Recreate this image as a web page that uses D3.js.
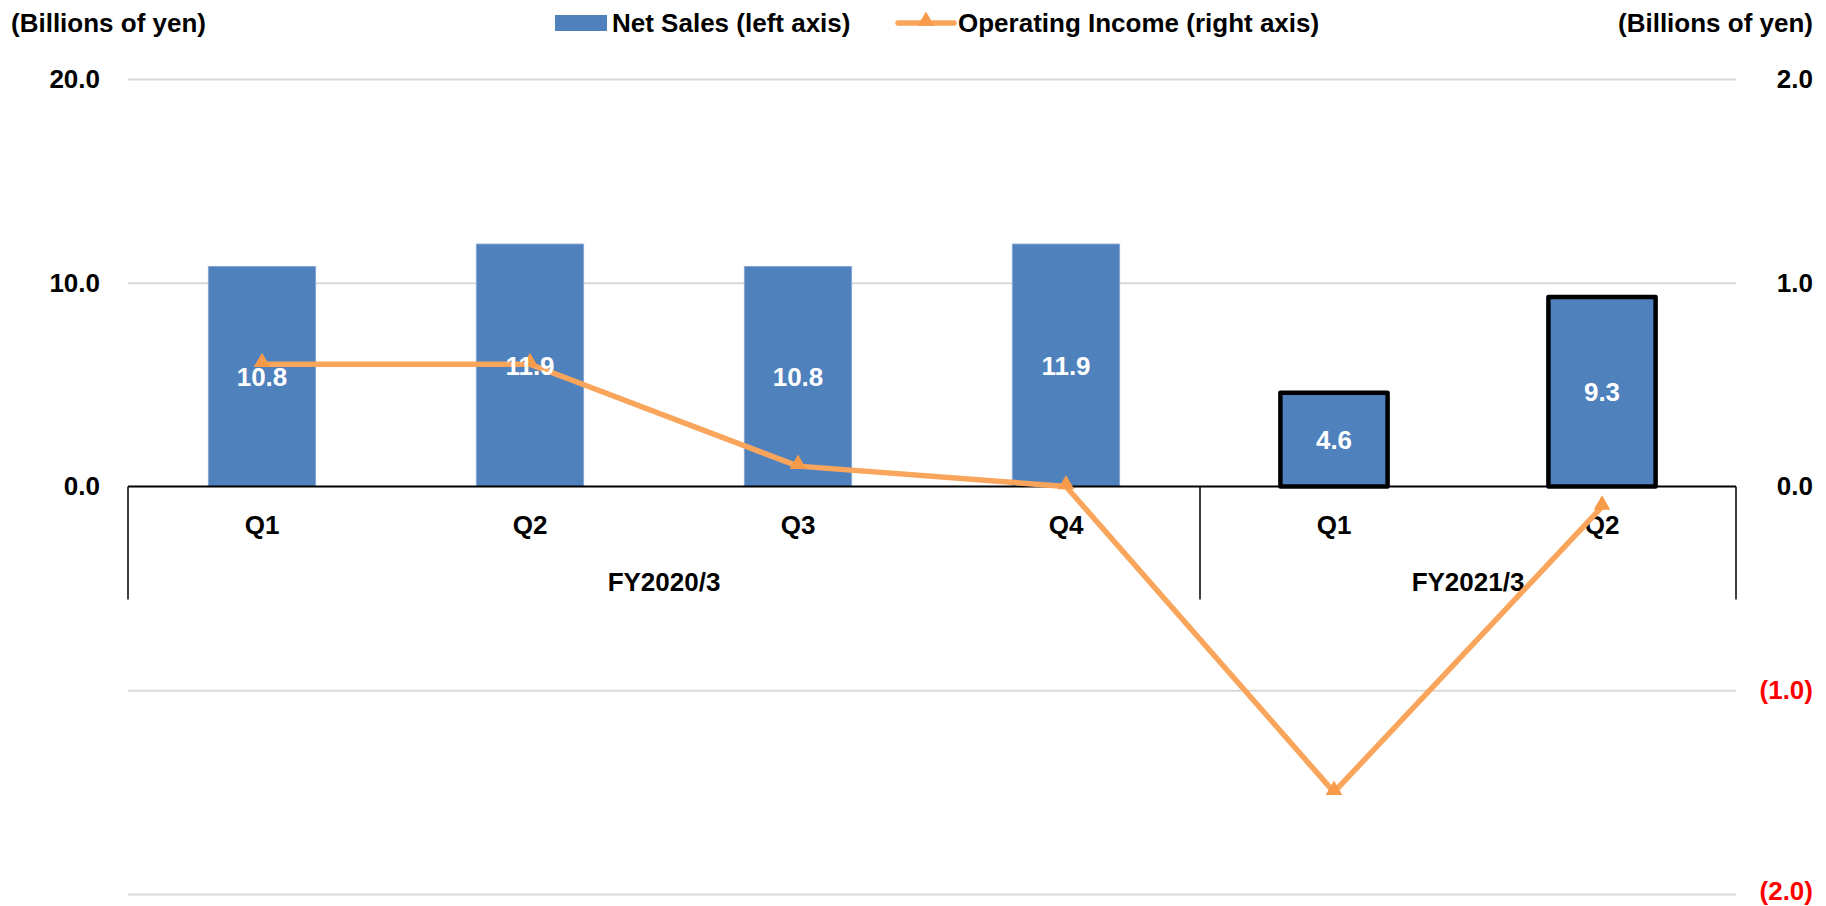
<!DOCTYPE html>
<html>
<head>
<meta charset="utf-8">
<script src="https://cdn.jsdelivr.net/npm/d3@7"></script>
<style>
  html, body { margin: 0; padding: 0; background: #fff; }
  svg text { font-family: "Liberation Sans Narrow", "Arial Narrow", "Liberation Sans", sans-serif; font-weight: bold; }
</style>
</head>
<body>
<svg id="chart"></svg>
<script>
// data
const quarters = ['Q1', 'Q2', 'Q3', 'Q4', 'Q1', 'Q2'];
const fiscalYears = ['FY2020/3', 'FY2021/3'];
const netSales = [10.8, 11.9, 10.8, 11.9, 4.6, 9.3];
const operatingIncome = [0.6, 0.6, 0.1, 0.0, -1.5, -0.1];
const outlined = [false, false, false, false, true, true];
const leftTicks = [0, 10, 20];
const rightTicks = [-2, -1, 0, 1, 2];
const gridTicks = [-20, -10, 10, 20];

const width = 1826, height = 906;
const margin = { left: 128, right: 90, top: 79, bottom: 12 };

const svg = d3.select('#chart').attr('width', width).attr('height', height);

const idx = d3.range(quarters.length);
const x = d3.scaleBand()
	.domain(idx)
	.range([margin.left, width - margin.right])
	.paddingInner(0.6)
	.paddingOuter(0.3);

const yLeft = d3.scaleLinear().domain([-20, 20]).range([height - margin.bottom, margin.top]);
const yRight = d3.scaleLinear().domain([-2, 2]).range([height - margin.bottom, margin.top]);

const fmt = d3.format('.1f');
const blue = '#4f81bd';
const orange = '#f9a55b';

// gridlines
svg.append('g')
	.attr('transform', `translate(${margin.left},0)`)
	.call(d3.axisLeft(yLeft).tickValues(gridTicks).tickSize(-(width - margin.left - margin.right)).tickFormat(''))
	.call(g => g.select('.domain').remove())
	.call(g => g.selectAll('line').attr('stroke', '#d9d9d9').attr('stroke-width', 2));

// bars
svg.append('g')
	.selectAll('rect')
	.data(idx)
	.join('rect')
	.attr('x', i => x(i))
	.attr('width', x.bandwidth())
	.attr('y', i => yLeft(netSales[i]))
	.attr('height', i => yLeft(0) - yLeft(netSales[i]))
	.attr('fill', blue)
	.attr('stroke', i => outlined[i] ? '#000' : '#86a6d3')
	.attr('stroke-width', i => outlined[i] ? 4.5 : 1)
	.attr('stroke-linejoin', 'round');

// category axis
const x0 = x.range()[0], x1 = x.range()[1];
const gap = (x.step() - x.bandwidth()) / 2;
const sep = [x0, x(4) - gap, x1];
const axisG = svg.append('g');
axisG.append('line')
	.attr('x1', x0).attr('x2', x1)
	.attr('y1', yLeft(0)).attr('y2', yLeft(0))
	.attr('stroke', '#000').attr('stroke-width', 2);
axisG.selectAll('.sep')
	.data(sep)
	.join('line')
	.attr('class', 'sep')
	.attr('x1', d => d).attr('x2', d => d)
	.attr('y1', yLeft(0)).attr('y2', yLeft(0) + 113)
	.attr('stroke', '#000').attr('stroke-width', 1.5);
axisG.selectAll('.q')
	.data(idx)
	.join('text')
	.attr('class', 'q')
	.attr('x', i => x(i) + x.bandwidth() / 2)
	.attr('y', yLeft(0) + 38)
	.attr('dy', '0.36em')
	.attr('text-anchor', 'middle')
	.style('font-size', '26px')
	.text(i => quarters[i]);
axisG.selectAll('.fy')
	.data(fiscalYears)
	.join('text')
	.attr('class', 'fy')
	.attr('x', (d, j) => (sep[j] + sep[j + 1]) / 2)
	.attr('y', yLeft(0) + 95)
	.attr('dy', '0.36em')
	.attr('text-anchor', 'middle')
	.style('font-size', '26px')
	.text(d => d);

// operating income line
const line = d3.line()
	.x(i => x(i) + x.bandwidth() / 2)
	.y(i => yRight(operatingIncome[i]));
svg.append('path')
	.datum(idx)
	.attr('fill', 'none')
	.attr('stroke', orange)
	.attr('stroke-width', 5.5)
	.attr('stroke-linejoin', 'round')
	.attr('d', line);
svg.append('g')
	.selectAll('path')
	.data(idx)
	.join('path')
	.attr('transform', i => `translate(${x(i) + x.bandwidth() / 2},${yRight(operatingIncome[i]) - 2})`)
	.attr('d', d3.symbol(d3.symbolTriangle, 120))
	.attr('fill', '#f79a4a');

// bar labels (drawn over the line)
svg.append('g')
	.selectAll('text')
	.data(idx)
	.join('text')
	.attr('x', i => x(i) + x.bandwidth() / 2)
	.attr('y', i => (yLeft(netSales[i]) + yLeft(0)) / 2)
	.attr('dy', '0.36em')
	.attr('text-anchor', 'middle')
	.attr('fill', '#fff')
	.style('font-size', '26px')
	.text(i => fmt(netSales[i]));

// left axis
svg.append('g')
	.attr('transform', `translate(${margin.left},0)`)
	.call(d3.axisLeft(yLeft).tickValues(leftTicks).tickSize(0).tickPadding(28).tickFormat(fmt))
	.call(g => g.select('.domain').remove())
	.call(g => g.selectAll('text').attr('fill', '#000').style('font-size', '26px'));

// right axis
svg.append('g')
	.attr('transform', `translate(${width - margin.right},0)`)
	.call(d3.axisRight(yRight).tickValues(rightTicks).tickSize(0).tickPadding(0)
		.tickFormat(d => d < 0 ? `(${fmt(-d)})` : fmt(d)))
	.call(g => g.select('.domain').remove())
	.call(g => g.selectAll('text')
		.attr('x', 77)
		.attr('text-anchor', 'end')
		.attr('dy', d => d === -2 ? '0.2em' : '0.32em')
		.attr('fill', d => d < 0 ? '#ff0000' : '#000')
		.style('font-size', '26px'));

// axis titles
svg.append('text')
	.attr('x', 11).attr('y', 23).attr('dy', '0.36em')
	.style('font-size', '26px')
	.text('(Billions of yen)');
svg.append('text')
	.attr('x', 1813).attr('y', 23).attr('dy', '0.36em')
	.attr('text-anchor', 'end')
	.style('font-size', '26px')
	.text('(Billions of yen)');

// legend
const legend = svg.append('g');
legend.append('rect')
	.attr('x', 555).attr('y', 15).attr('width', 52).attr('height', 16)
	.attr('fill', blue);
legend.append('text')
	.attr('x', 612).attr('y', 23).attr('dy', '0.36em')
	.style('font-size', '26px')
	.text('Net Sales (left axis)');
legend.append('line')
	.attr('x1', 898).attr('x2', 954).attr('y1', 23).attr('y2', 23)
	.attr('stroke', orange).attr('stroke-width', 5.5).attr('stroke-linecap', 'round');
legend.append('path')
	.attr('transform', 'translate(926,21)')
	.attr('d', d3.symbol(d3.symbolTriangle, 120))
	.attr('fill', '#f79a4a');
legend.append('text')
	.attr('x', 958).attr('y', 23).attr('dy', '0.36em')
	.style('font-size', '26px')
	.text('Operating Income (right axis)');
</script>
</body>
</html>
